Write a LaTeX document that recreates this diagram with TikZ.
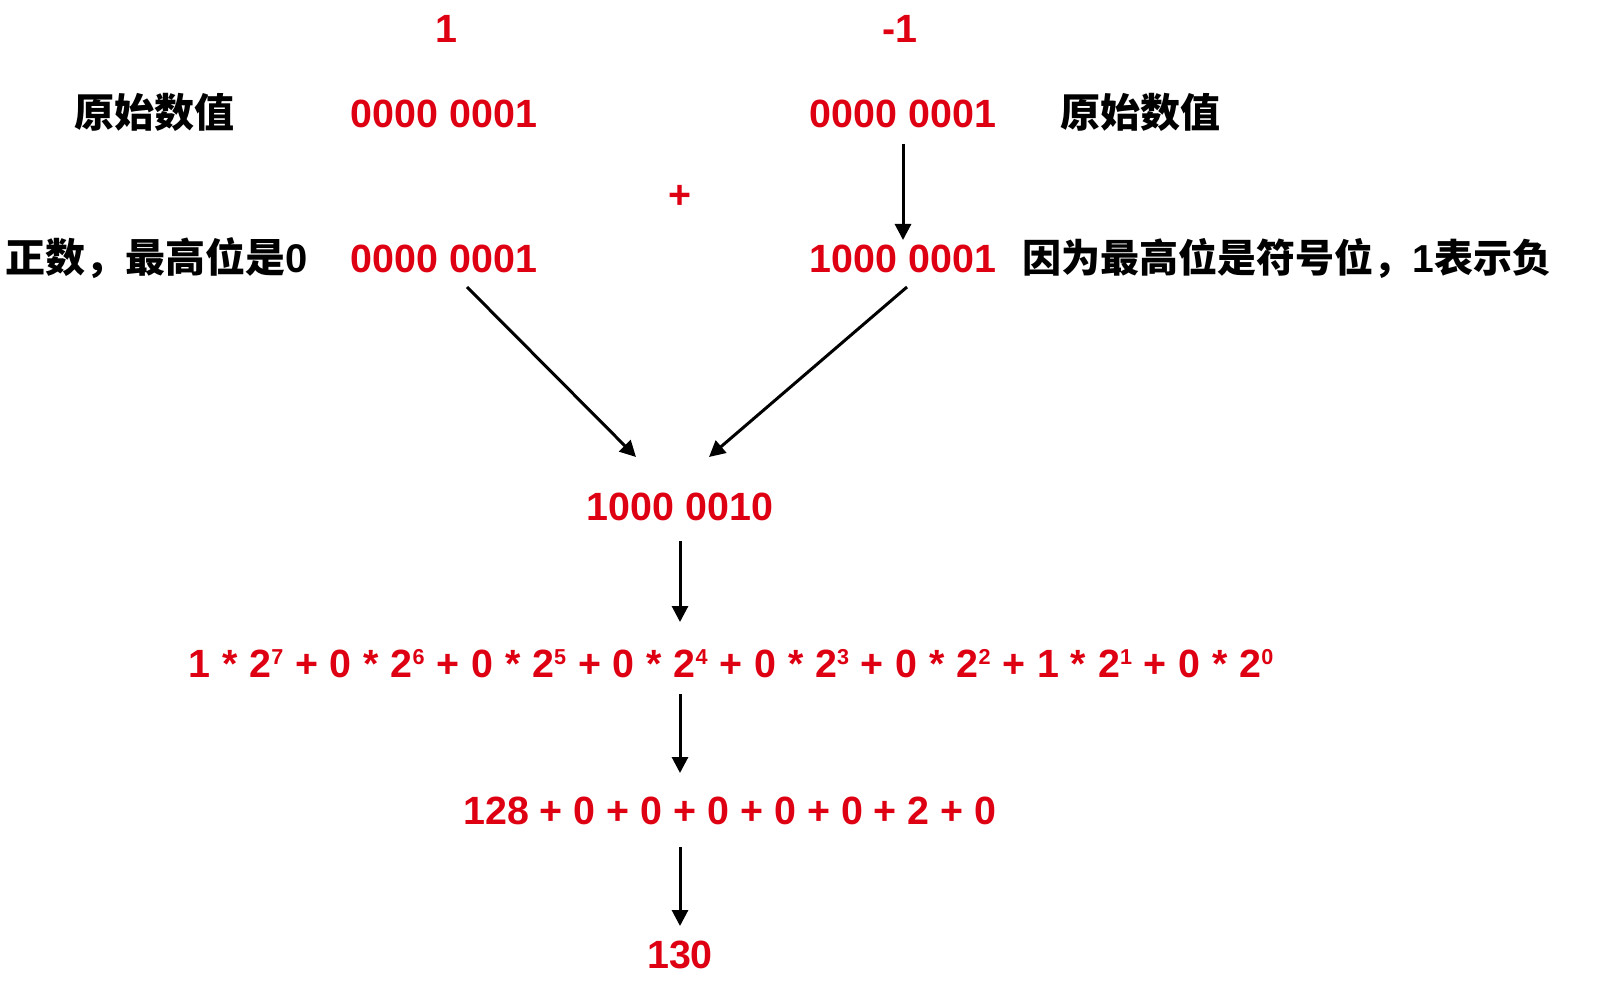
\documentclass[tikz,border=0pt]{standalone}
\usepackage{fontspec}
\setmainfont{Liberation Sans}
\newfontfamily\cjk{Noto Sans CJK SC}
\usetikzlibrary{arrows.meta,calc}
\definecolor{numred}{RGB}{222,0,18}
\newcommand\supd[1]{\raisebox{0.325em}{\fontsize{10.8pt}{12pt}\selectfont #1}}
\tikzset{
  num/.style={text=numred, font=\fontsize{19.7pt}{23pt}\selectfont\bfseries, inner sep=0pt, anchor=base},
  lab/.style={text=black, font=\fontsize{20pt}{24pt}\selectfont\bfseries, inner sep=0pt, anchor=base},
  arr/.style={-{Triangle[length=8pt,width=8pt]}, line width=1.5pt, black}
}
\begin{document}
\begin{tikzpicture}[x=0.5pt,y=-0.5pt]
\useasboundingbox[fill=white] (0,0) rectangle (1608,1000);
% top row
\node[num] (t1) at (446,43) {1};
\node[num] (t2) at (900,43) {-1};
% row 1
\node[lab] (L1) at (155,128) {\cjk 原始数值};
\node[num] (a1) at (444,128) {0000 0001};
\node[num] (b1) at (903,128) {0000 0001};
\node[lab] (R1) at (1140,128) {\cjk 原始数值};
% plus
\node[num, anchor=center] (pl) at (680,197) {+};
% row 2
\node[lab] (L2) at (157,273) {{\cjk 正数，最高位是}0};
\node[num] (a2) at (444,273) {0000 0001};
\node[num] (b2) at (903,273) {1000 0001};
\node[lab, anchor=base west, font=\fontsize{19.5pt}{24pt}\selectfont\bfseries] (R2) at (1022,273) {{\cjk 因为最高位是符号位，}1{\cjk 表示负}};
% result
\node[num] (c) at (680,520) {1000 0010};
\node[num] (f) at (731,677) {\spaceskip=0.3em 1 * 2\supd{7} + 0 * 2\supd{6} + 0 * 2\supd{5} + 0 * 2\supd{4} + 0 * 2\supd{3} + 0 * 2\supd{2} + 1 * 2\supd{1} + 0 * 2\supd{0}};
\node[num] (s) at (730,824) {128 + 0 + 0 + 0 + 0 + 0 + 2 + 0};
\node[num] (r) at (680,968) {130};
% arrows
\draw[arr] ($(b1.base)+(0,16)$) -- ($(b2.base)+(0,-33)$);
\draw[arr] ($(a2.base)+(23,14)$) -- ($(c.base)+(-44,-63)$);
\draw[arr] ($(b2.base)+(4,14)$) -- ($(c.base)+(29,-63)$);
\draw[arr] ($(c.base)+(0,21)$) -- ($(f.base)+(-51,-55)$);
\draw[arr] ($(f.base)+(-51,17)$) -- ($(s.base)+(-50,-51)$);
\draw[arr] ($(s.base)+(-50,23)$) -- ($(r.base)+(0,-42)$);
\end{tikzpicture}
\end{document}
